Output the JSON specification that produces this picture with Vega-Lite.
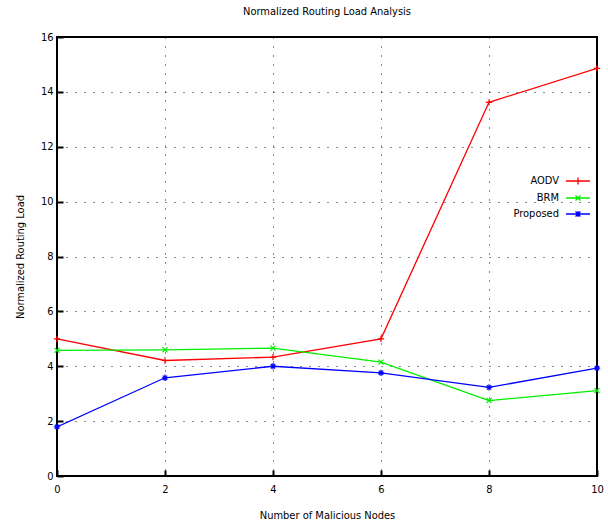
{
  "$schema": "https://vega.github.io/schema/vega-lite/v6.json",
  "width": 540,
  "height": 439,
  "autosize": {"type": "none"},
  "padding": {"left": 57, "top": 37, "right": 11, "bottom": 48},
  "background": "white",
  "title": {"text": "Normalized Routing Load Analysis", "fontSize": 11, "font": "DejaVu Sans Condensed", "fontWeight": "normal", "offset": 14, "anchor": "middle", "color": "black"},
  "config": {
    "view": {"stroke": "black", "strokeWidth": 2},
    "font": "DejaVu Sans Condensed",
    "axis": {
      "domain": false,
      "grid": true,
      "gridColor": "black",
      "gridDash": [1, 8],
      "gridOpacity": 0.9,
      "tickColor": "black",
      "tickWidth": 2,
      "tickSize": -6,
      "labelFont": "DejaVu Sans Condensed",
      "labelFontSize": 11,
      "labelColor": "black",
      "titleFont": "DejaVu Sans Condensed",
      "titleFontSize": 11,
      "titleFontWeight": "normal",
      "titleColor": "black"
    }
  },
  "resolve": {"legend": {"color": "independent", "shape": "independent"}},
  "data": {"values": [
    {"nodes": 0, "load": 5.0, "series": "AODV"},
    {"nodes": 2, "load": 4.21, "series": "AODV"},
    {"nodes": 4, "load": 4.33, "series": "AODV"},
    {"nodes": 6, "load": 5.0, "series": "AODV"},
    {"nodes": 8, "load": 13.62, "series": "AODV"},
    {"nodes": 10, "load": 14.86, "series": "AODV"},
    {"nodes": 0, "load": 4.58, "series": "BRM"},
    {"nodes": 2, "load": 4.6, "series": "BRM"},
    {"nodes": 4, "load": 4.66, "series": "BRM"},
    {"nodes": 6, "load": 4.15, "series": "BRM"},
    {"nodes": 8, "load": 2.75, "series": "BRM"},
    {"nodes": 10, "load": 3.11, "series": "BRM"},
    {"nodes": 0, "load": 1.79, "series": "Proposed"},
    {"nodes": 2, "load": 3.58, "series": "Proposed"},
    {"nodes": 4, "load": 4.0, "series": "Proposed"},
    {"nodes": 6, "load": 3.76, "series": "Proposed"},
    {"nodes": 8, "load": 3.23, "series": "Proposed"},
    {"nodes": 10, "load": 3.93, "series": "Proposed"}
  ]},
  "encoding": {
    "x": {"field": "nodes", "type": "quantitative", "scale": {"domain": [0, 10], "nice": false},
      "axis": {"title": "Number of Malicious Nodes", "values": [0, 2, 4, 6, 8, 10], "labelPadding": 13, "titlePadding": 15, "labelFlush": false}},
    "y": {"field": "load", "type": "quantitative", "scale": {"domain": [0, 16], "nice": false},
      "axis": {"title": "Normalized Routing Load", "values": [0, 2, 4, 6, 8, 10, 12, 14, 16], "labelPadding": 10, "titlePadding": 15}}
  },
  "layer": [
    {
      "mark": {"type": "line", "strokeWidth": 1.3, "clip": true},
      "encoding": {
        "color": {"field": "series", "type": "nominal",
          "scale": {"domain": ["AODV", "BRM", "Proposed"], "range": ["#ff0000", "#00ee00", "#0000ff"]},
          "legend": {
            "title": null,
            "orient": "none",
            "legendX": 515,
            "legendY": 138,
            "labelAlign": "right",
            "labelOffset": -25,
            "labelFontSize": 11,
            "labelFont": "DejaVu Sans Condensed",
            "labelColor": "black",
            "rowPadding": 4,
            "symbolSize": 100,
            "symbolStrokeWidth": 1.3,
            "encode": {"symbols": {"update": {
              "shape": {"signal": "datum.value === 'AODV' ? 'M-2.4,0L2.4,0M0,-0.7L0,0.7' : datum.value === 'BRM' ? 'M-2.4,0L2.4,0M-0.5,-0.5L0.5,0.5M-0.5,0.5L0.5,-0.5' : 'M-2.4,0L2.4,0M0,-0.6L0,0.6M-0.5,-0.5L0.5,0.5M-0.5,0.5L0.5,-0.5'"},
              "fill": {"value": "transparent"}
            }}}
          }
        }
      }
    },
    {
      "mark": {"type": "point", "filled": false, "size": 40, "strokeWidth": 1.2, "opacity": 1},
      "encoding": {
        "color": {"field": "series", "type": "nominal", "legend": null},
        "shape": {"field": "series", "type": "nominal", "legend": null,
          "scale": {"domain": ["AODV", "BRM", "Proposed"], "range": ["M-1,0L1,0M0,-1L0,1", "M-0.8,-0.8L0.8,0.8M-0.8,0.8L0.8,-0.8", "M-1,0L1,0M0,-1L0,1M-0.7,-0.7L0.7,0.7M-0.7,0.7L0.7,-0.7"]}}
      }
    }
  ]
}
